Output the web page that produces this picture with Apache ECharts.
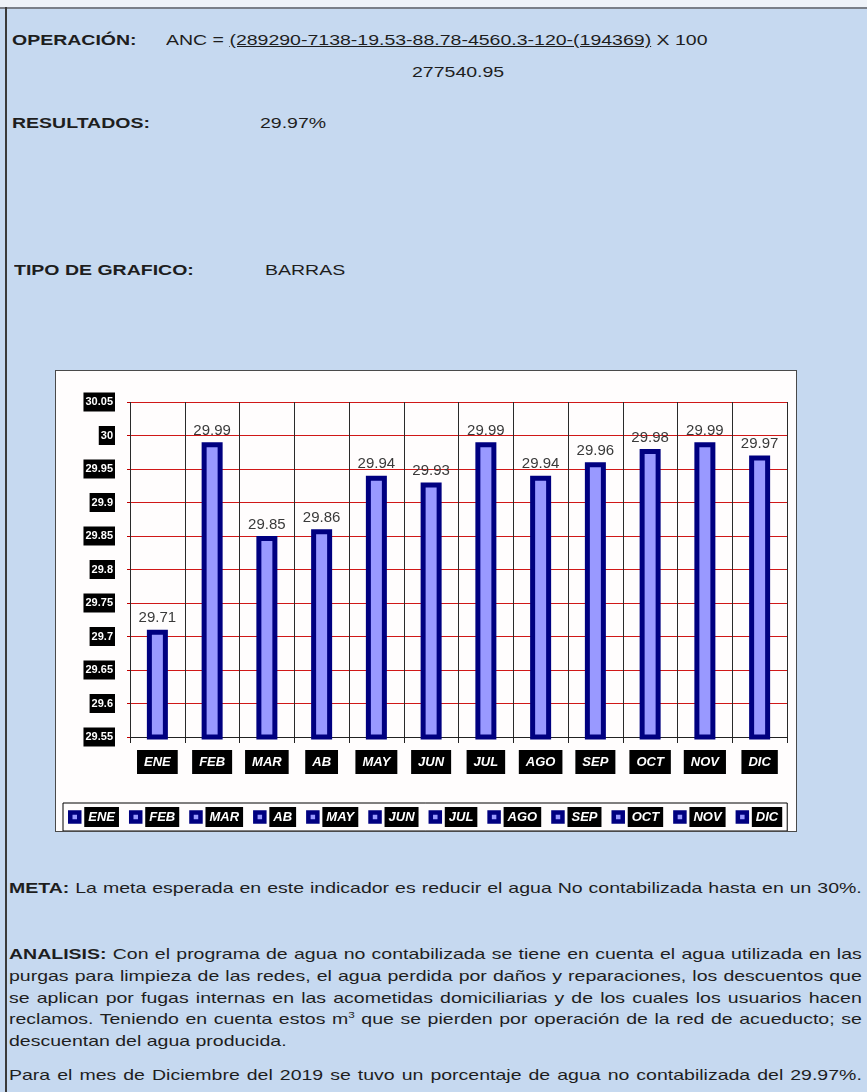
<!DOCTYPE html>
<html lang="es">
<head>
<meta charset="utf-8">
<title>Agua no contabilizada 2019</title>
<script src="https://cdn.jsdelivr.net/npm/echarts@6/dist/echarts.min.js"></script>
<style>
  html, body { margin: 0; padding: 0; }
  body {
    width: 867px; height: 1092px; position: relative; overflow: hidden;
    background: #c6d9f0; color: #1e1e1e;
    font-family: "Liberation Sans", Arial, sans-serif;
  }
  .topbar { position: absolute; left: 0; top: 0; width: 867px; height: 7px; background: #eef2f8; border-bottom: 2px solid #7a7f88; }
  .leftbar { position: absolute; left: 5px; top: 7px; width: 2px; height: 1085px; background: #3a3a3a; }
  /* el documento original esta estirado en horizontal */
  .t { position: absolute; font-size: 15px; line-height: 18px; white-space: nowrap; transform: scaleX(1.3); transform-origin: 0 0; }
  .b { font-weight: bold; }
  .u { text-decoration: underline; }
  .ln {
    position: absolute; left: 9px; width: 656px; font-size: 15px; line-height: 18px;
    white-space: nowrap; text-align: justify; text-align-last: justify;
    transform: scaleX(1.3); transform-origin: 0 0;
  }
  .ln.last { text-align-last: left; }
  sup { font-size: 9px; line-height: 0; vertical-align: 6px; }
  #chart {
    position: absolute; left: 55px; top: 370px; width: 742px; height: 462px;
    background: #fffdfd; border: 1px solid #4a4a4a; box-sizing: border-box;
  }
</style>
</head>
<body>
<div class="topbar"></div>
<div class="leftbar"></div>

<div class="t b" style="left:12px; top:31px">OPERACIÓN:</div>
<div class="t" style="left:166px; top:31px">ANC = <span class="u">(289290-7138-19.53-88.78-4560.3-120-(194369)</span> X 100</div>
<div class="t" style="left:412px; top:63px">277540.95</div>
<div class="t b" style="left:12px; top:114px">RESULTADOS:</div>
<div class="t" style="left:260px; top:114px">29.97%</div>
<div class="t b" style="left:14px; top:261px">TIPO DE GRAFICO:</div>
<div class="t" style="left:265px; top:261px">BARRAS</div>

<div id="chart"></div>

<div class="ln" style="top:879px"><b>META:</b> La meta esperada en este indicador es reducir el agua No contabilizada hasta en un 30%.</div>
<div class="ln" style="top:945px"><b>ANALISIS:</b> Con el programa de agua no contabilizada se tiene en cuenta el agua utilizada en las</div>
<div class="ln" style="top:967px">purgas para limpieza de las redes, el agua perdida por daños y reparaciones, los descuentos que</div>
<div class="ln" style="top:989px">se aplican por fugas internas en las acometidas domiciliarias y de los cuales los usuarios hacen</div>
<div class="ln" style="top:1010px">reclamos. Teniendo en cuenta estos m<sup>3</sup> que se pierden por operación de la red de acueducto; se</div>
<div class="ln last" style="top:1032px">descuentan del agua producida.</div>
<div class="ln" style="top:1066px">Para el mes de Diciembre del 2019 se tuvo un porcentaje de agua no contabilizada del 29.97%.</div>

<script>
// datos del grafico
const months = ['ENE', 'FEB', 'MAR', 'AB', 'MAY', 'JUN', 'JUL', 'AGO', 'SEP', 'OCT', 'NOV', 'DIC'];
const values = [29.71, 29.99, 29.85, 29.86, 29.94, 29.93, 29.99, 29.94, 29.96, 29.98, 29.99, 29.97];
const yMin = 29.55;
const yMax = 30.05;
const yStep = 0.05;

const boxLabel = {
  color: '#fff',
  backgroundColor: '#000',
  fontWeight: 'bold',
  fontFamily: 'Liberation Sans'
};

// una serie por mes para que la leyenda muestre cada mes (como en Excel)
const series = months.map((m, i) => ({
  name: m,
  type: 'bar',
  barWidth: 21,
  barGap: '-100%',
  data: values.map((v, j) => (j === i ? v : null)),
  itemStyle: { color: '#9999ff', borderColor: '#000080', borderWidth: 5 },
  label: {
    show: true,
    position: 'top',
    distance: 4,
    color: '#3a3a3a',
    fontSize: 15,
    fontFamily: 'Liberation Sans'
  },
  emphasis: { disabled: true }
}));

let mychart = echarts.init(document.getElementById('chart'));
mychart.setOption({
  animation: false,
  grid: { left: 74, right: 9, top: 31, bottom: 94, outerBoundsMode: 'none' },
  xAxis: {
    type: 'category',
    data: months,
    axisLine: { show: true, lineStyle: { color: '#222', width: 1 } },
    axisTick: { show: true, length: 6, lineStyle: { color: '#222' } },
    splitLine: { show: true, lineStyle: { color: '#2a2a2a', width: 1 } },
    axisLabel: {
      ...boxLabel,
      interval: 0,
      margin: 13,
      fontStyle: 'italic',
      fontSize: 13,
      padding: [6, 7, 5, 7]
    }
  },
  yAxis: {
    type: 'value',
    min: yMin,
    max: yMax,
    interval: yStep,
    axisLine: { show: false },
    axisTick: { show: true, length: 3, lineStyle: { color: '#c00000' } },
    splitLine: { show: true, lineStyle: { color: '#d01818', width: 1 } },
    axisLabel: {
      ...boxLabel,
      margin: 15,
      fontSize: 11,
      padding: [4, 2, 4, 2]
    }
  },
  legend: {
    data: months,
    left: 7,
    top: 432,
    orient: 'horizontal',
    icon: 'rect',
    itemWidth: 9,
    itemHeight: 9,
    itemGap: 10,
    padding: [4, 5],
    borderColor: '#000',
    borderWidth: 1,
    selectedMode: false,
    itemStyle: { color: '#9999ff', borderColor: '#000080', borderWidth: 4.5 },
    textStyle: {
      ...boxLabel,
      fontStyle: 'italic',
      fontSize: 13,
      padding: [4, 4, 3, 4]
    }
  },
  series: series
});
</script>
</body>
</html>
